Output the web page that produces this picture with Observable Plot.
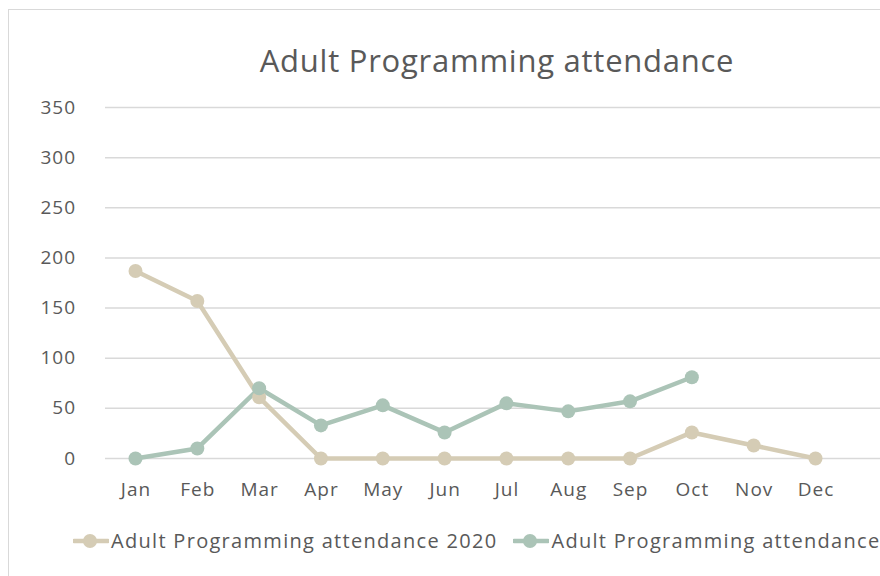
<!DOCTYPE html>
<html><head><meta charset="utf-8">
<script src="https://cdn.jsdelivr.net/npm/d3@7"></script>
<script src="https://cdn.jsdelivr.net/npm/@observablehq/plot@0.6"></script>
<style>
body{margin:0;background:#fff;font-family:"Open Sans","Noto Sans",sans-serif;overflow:hidden;}
#frame{position:absolute;left:8px;top:9px;width:900px;height:600px;border:1.5px solid #d9d9d9;box-sizing:border-box;}
#title{position:absolute;left:0;top:45px;width:994px;text-align:center;font-size:31px;letter-spacing:0.75px;color:#595959;line-height:1;}
#chart{position:absolute;left:0;top:0;}
#legend{position:absolute;left:73px;top:531px;display:flex;align-items:center;font-size:20px;letter-spacing:1.3px;color:#595959;white-space:nowrap;line-height:1;}
#legend .item{display:flex;align-items:center;margin-right:16px;}
#legend svg{margin-right:2px;}
.ax text{letter-spacing:1px;}
</style>
</head><body>
<div id="frame"></div>
<div id="title"></div>
<div id="chart"></div>
<div id="legend"></div>
<script>
const title = "Adult Programming attendance";
const months = ["Jan","Feb","Mar","Apr","May","Jun","Jul","Aug","Sep","Oct","Nov","Dec"];
const seriesNames = ["Adult Programming attendance 2020","Adult Programming attendance"];
const seriesColors = ["#d5ccb5","#abc4b7"];
const values2020 = [187,157,61,0,0,0,0,0,0,26,13,0];
const valuesCurrent = [0,10,70,33,53,26,55,47,57,81];
const yTicks = [0,50,100,150,200,250,300,350];

document.getElementById("title").textContent = title;

const data = [];
values2020.forEach((v,i)=>data.push({series:seriesNames[0], month:months[i], value:v}));
valuesCurrent.forEach((v,i)=>data.push({series:seriesNames[1], month:months[i], value:v}));

const plot = Plot.plot({
  width: 880,
  height: 576,
  marginLeft: 105,
  marginRight: 0,
  marginTop: 107,
  marginBottom: 118,
  style: {fontFamily: "'Open Sans', 'Noto Sans', sans-serif", fontSize: "19px", color: "#595959", background: "transparent"},
  x: {type: "point", domain: months, range: [135, 815], padding: 0, round: false, label: null},
  y: {domain: [0, 350], range: [458, 107], label: null},
  color: {domain: seriesNames, range: seriesColors},
  marks: [
    Plot.ruleY(yTicks, {stroke: "#d9d9d9", strokeWidth: 1.5, strokeOpacity: 1}),
    Plot.axisY({ticks: yTicks, tickSize: 0, tickPadding: 29.5, fill: "#595959", fontSize: 19, className: "ax"}),
    Plot.axisX({tickSize: 0, tickPadding: 24, fill: "#595959", fontSize: 19, className: "ax", dx: 0.5}),
    Plot.line(data, {x: "month", y: "value", z: "series", stroke: "series", strokeWidth: 4.5}),
    Plot.dot(data, {x: "month", y: "value", fill: "series", r: 7})
  ]
});
document.getElementById("chart").appendChild(plot);

const legend = d3.select("#legend");
seriesNames.forEach((name,i)=>{
  const item = legend.append("div").attr("class","item");
  const s = item.append("svg").attr("width",36).attr("height",16);
  s.append("line").attr("x1",1).attr("x2",35).attr("y1",8).attr("y2",8).attr("stroke",seriesColors[i]).attr("stroke-width",4.5).attr("stroke-linecap","round");
  s.append("circle").attr("cx",17).attr("cy",8).attr("r",7).attr("fill",seriesColors[i]);
  item.append("span").text(name);
});
</script>
</body></html>
